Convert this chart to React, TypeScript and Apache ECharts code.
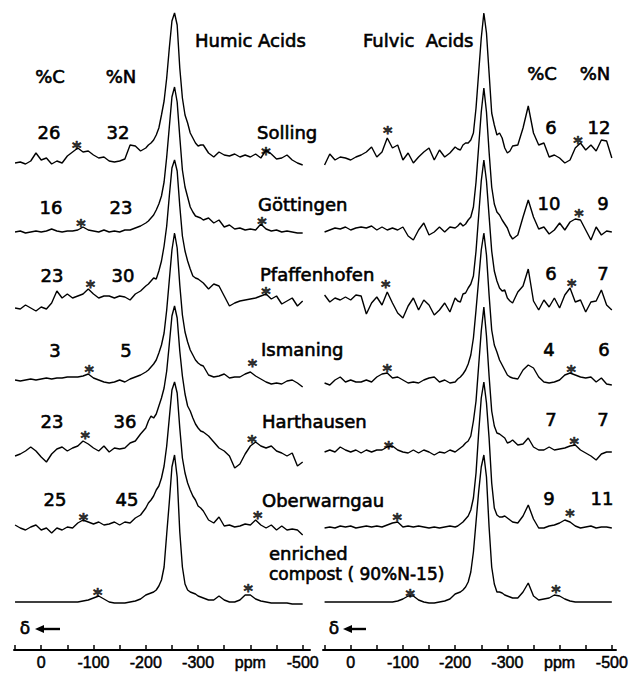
import React, { useEffect, useRef } from "react";
import * as echarts from "echarts";

// chemical shift grid (ppm) shared by every spectrum
const PPM = [
  50, 40, 30, 20, 10, 0, -10, -20, -30, -40, -50, -60, -70, -80, -90, -100, -110, -120, -130, -140, -150, -160, -170, -180, -190, -200,
  -205, -210, -215, -220, -225, -230, -235, -240, -245, -250, -255, -260, -265, -270, -275, -280, -285, -290, -295, -300, -305,
  -310, -320, -330, -340, -350, -360, -370, -380, -390, -400, -410, -420, -430, -440, -450, -460, -470, -480, -490, -500,
];

const samples = ["Solling", "Göttingen", "Pfaffenhofen", "Ismaning", "Harthausen", "Oberwarngau"];
const humicC = [26, 16, 23, 3, 23, 25];
const humicN = [32, 23, 30, 5, 36, 45];
const fulvicC = [6, 10, 6, 4, 7, 9];
const fulvicN = [12, 9, 7, 6, 7, 11];
const tickLabels = [0, -100, -200, -300, -400, -500];
const tickMarks = [50, 0, -50, -100, -150, -200, -250, -300, -350, -400, -450, -500];

// humic acid spectra (intensity above each trace's baseline)
const humicSolling = [
  0, 1, -1, 2, 10, 3, 5, -1, 2, 0, 7, 11, 15, 11, 12, 8, 5, 6, 2, 1, 2, 4, 18, 17, 12, 15,
  18, 20, 23, 28, 35, 48, 62, 85, 115, 142, 150, 138, 95, 65, 48, 40, 30, 25, 20, 17, 18,
  18, 10, 6, 11, 8, 7, 9, 6, 8, 6, 9, 5, 13, 9, 4, 5, 8, 3, 0, -2,
];
const humicGoettingen = [
  0, 1, -1, 0, 1, 0, 1, 3, 1, 0, 1, 1, 2, 5, 2, 1, 0, 2, 0, 1, 0, 2, 2, 4, 6, 9,
  11, 14, 17, 22, 28, 36, 50, 75, 105, 135, 145, 130, 95, 62, 45, 35, 25, 20, 16, 15, 14,
  12, 14, 9, 12, 5, 7, 3, 4, 2, 3, 2, 8, 3, 1, 2, 0, 1, 0, -1, -1,
];
const humicPfaffenhofen = [
  -2, -3, 1, -2, -5, -1, -3, 3, 15, 8, 12, 8, 10, 12, 17, 12, 8, 10, 10, 8, 10, 9, 6, 12, 15, 20,
  22, 25, 28, 27, 35, 45, 60, 80, 110, 138, 146, 135, 100, 70, 55, 45, 37, 30, 28, 27, 25,
  23, 17, 22, 20, 10, 0, 3, 5, 6, 7, 8, 10, 12, 7, 10, 2, 5, 8, 0, 5,
];
const humicIsmaning = [
  0, -1, 0, 1, 0, 1, 2, 1, 2, 2, 3, 3, 3, 4, 6, 2, 0, -2, -3, -2, 0, -2, 1, 3, 5, 8,
  10, 13, 16, 20, 27, 35, 47, 70, 100, 130, 147, 132, 95, 65, 48, 38, 30, 25, 20, 17, 15,
  14, 5, 3, 4, 6, 2, 3, 3, 6, 8, 4, 1, -2, -4, -3, -4, -1, 0, -3, -7,
];
const humicHarthausen = [
  0, 2, 5, 9, 5, -1, -6, 2, 7, 9, 5, 8, 10, 15, 12, 8, 5, 10, 4, 8, 7, 8, 13, 15, 22, 28,
  35, 40, 38, 42, 50, 58, 68, 85, 112, 140, 150, 138, 105, 80, 62, 50, 45, 38, 32, 28, 25,
  24, 20, 14, 8, 5, 0, -12, -8, 2, 10, 14, 10, 8, 10, 5, 3, 0, 3, -10, -6,
];
const humicOberwarngau = [
  3, 0, -2, 1, 3, -2, 0, -5, 0, -2, 1, 0, 5, 8, 6, 4, 6, 3, 4, 6, 3, 6, 5, 10, 13, 20,
  25, 28, 32, 38, 42, 50, 62, 82, 110, 138, 146, 135, 100, 70, 55, 45, 38, 32, 28, 22, 20,
  17, 8, 5, 11, 2, 3, 1, 2, 4, 3, 8, 3, 0, 3, -2, 2, -2, -1, -2, -7,
];
const humicCompost = [
  0, 0, 0, 0, 0, 0, 0, 0, 0, 0, 0, 0, 0, 1, 2, 4, 6, 3, 0, -1, -1, -1, 0, 1, 3, 7,
  8, 9, 10, 12, 16, 22, 35, 68, 100, 135, 147, 125, 70, 35, 18, 12, 10, 9, 8, 6, 5,
  4, 2, 2, 6, 2, 0, 0, 2, 7, 7, 3, 1, 0, -1, -1, -1, -1, -2, -2, -2,
];

// fulvic acid spectra
const fulvicSolling = [
  -2, 9, 3, 6, 5, 3, 6, 8, 11, 16, 6, 11, 25, 15, 18, 3, 10, 0, 6, 11, 15, 3, 13, 6, 10, 16,
  14, 13, 18, 20, 20, 23, 30, 55, 90, 125, 150, 130, 90, 50, 38, 28, 30, 25, 15, 10, 12,
  17, 18, 35, 57, 30, 18, 20, 6, 8, 5, 0, 3, 15, 20, 13, 18, 12, 23, 22, 5,
];
const fulvicGoettingen = [
  0, 2, 4, 3, 5, 2, 4, 5, 4, 6, 2, 5, 2, 4, 2, 5, -4, -8, 2, 9, -3, 0, 5, 0, 5, 4,
  6, 9, 6, 8, 12, 15, 25, 50, 85, 120, 144, 120, 80, 45, 28, 20, 17, 12, 8, 4, -3,
  -7, -3, 15, 32, 15, 3, 5, -2, 2, 9, 2, 10, 13, 12, 2, -8, 5, -3, 1, 0,
];
const fulvicPfaffenhofen = [
  11, 4, 8, 6, 9, 6, 11, 10, -8, 3, 9, 1, 14, 3, -7, -12, 0, 8, -4, 6, 1, -9, -4, 3, -6, 8,
  5, 4, 12, 13, 18, 22, 30, 55, 90, 125, 146, 125, 90, 55, 35, 25, 18, 15, 16, 8, 5,
  3, 14, 20, 37, 5, -4, 6, -1, 8, -2, 11, 18, 4, 6, -6, 4, 5, 16, 1, -4,
];
const fulvicIsmaning = [
  -3, -5, 0, 3, -2, 0, -2, -2, 0, -2, 3, 6, 7, 2, 3, 0, -3, -2, -3, 0, 2, 3, -2, 0, -3, -2,
  1, 3, 6, 10, 16, 25, 42, 70, 100, 130, 147, 125, 85, 50, 35, 28, 20, 15, 10, 5, 3,
  2, 1, 10, 15, 12, 3, -2, -3, -2, 0, 5, 7, 5, 3, 2, 3, -2, 2, -4, -5,
];
const fulvicHarthausen = [
  4, 6, 4, 9, 6, 4, 6, 3, 6, 4, 6, 6, 9, 10, 6, 4, 3, 6, 3, 6, 4, 1, 4, 3, 6, 4,
  6, 8, 10, 13, 15, 20, 35, 55, 90, 125, 149, 120, 80, 45, 30, 23, 22, 20, 18, 13, 14,
  16, 11, 12, 18, 9, 6, 6, 9, 6, 7, 8, 10, 11, 6, 3, 0, -4, 2, 4, 4,
];
const fulvicOberwarngau = [
  0, 1, 0, 2, 1, 2, 0, 1, 2, 1, 2, 1, 3, 5, 6, 1, 2, 1, 2, 1, 0, 1, 0, 1, 2, 1,
  2, 4, 6, 9, 12, 18, 30, 55, 95, 130, 146, 125, 90, 45, 20, 13, 11, 11, 12, 10, 8,
  6, 5, 12, 23, 9, 0, 0, 2, 3, 5, 8, 6, 2, 0, 1, 2, 0, 1, 1, 0,
];
const fulvicCompost = [
  0, 0, 0, 0, 0, 0, 0, 0, 0, 0, 0, 0, 0, 0, 1, 3, 6, 6, 2, 0, -1, -1, 0, 1, 3, 8,
  9, 10, 12, 15, 20, 30, 50, 80, 110, 135, 147, 125, 75, 35, 18, 10, 10, 9, 7, 6, 5,
  4, 4, 10, 19, 6, 2, 3, 4, 7, 6, 3, 1, 0, 0, 0, 0, 0, 0, 0, 0,
];

// spinning side bands: [ppm, trace index, height above baseline]
const humicSidebands = [
  [-68, 0, 20], [-430, 0, 14], [-76, 1, 11], [-422, 1, 13], [-94, 2, 24], [-430, 2, 17],
  [-92, 3, 13], [-404, 3, 19], [-84, 4, 23], [-403, 4, 19], [-81, 5, 13], [-414, 5, 15],
  [-108, 6, 12], [-396, 6, 16],
];
const fulvicSidebands = [
  [-71, 0, 35], [-435, 0, 25], [-437, 1, 21], [-67, 2, 24], [-423, 2, 25], [-70, 3, 14],
  [-422, 3, 13], [-73, 4, 13], [-428, 4, 17], [-89, 5, 13], [-420, 5, 17], [-114, 6, 11],
  [-393, 6, 15],
];

const humicSpectra = [humicSolling, humicGoettingen, humicPfaffenhofen, humicIsmaning, humicHarthausen, humicOberwarngau, humicCompost];
const fulvicSpectra = [fulvicSolling, fulvicGoettingen, fulvicPfaffenhofen, fulvicIsmaning, fulvicHarthausen, fulvicOberwarngau, fulvicCompost];

// layout: vertical stacking offset of each trace (value units = px)
const ROW_OFFSET = [439, 370, 296, 222, 146, 74, 0];

const FONT = '"DejaVu Sans", sans-serif';
const INK = "#000";

function txt(text: string, x: number, y: number, align: string = "center", size: number = 18) {
  return {
    type: "text",
    silent: true,
    style: {
      text, x, y, fill: INK, stroke: INK, lineWidth: 0.6,
      font: `${size}px ${FONT}`, align, verticalAlign: "middle",
    },
  };
}

function arrow(x0: number, x1: number, y: number) {
  return [
    { type: "line", silent: true, shape: { x1: x0 + 6, y1: y, x2: x1, y2: y }, style: { stroke: INK, lineWidth: 2.4 } },
    { type: "polygon", silent: true, shape: { points: [[x0, y], [x0 + 9, y - 4], [x0 + 9, y + 4]] }, style: { fill: INK } },
  ];
}

function makeXAxis(gridIndex: number, min: number, max: number) {
  return {
    gridIndex,
    type: "value",
    min,
    max,
    inverse: true,
    splitLine: { show: false },
    axisLine: { show: true, onZero: false, lineStyle: { color: INK, width: 2 } },
    axisTick: { show: true, inside: true, length: 5, customValues: tickMarks, lineStyle: { color: INK, width: 1.5 } },
    axisLabel: {
      show: true,
      customValues: tickLabels,
      formatter: (v: number) => (v === -400 ? "ppm" : String(v)),
      color: INK,
      fontSize: 16,
      fontFamily: '"Liberation Sans", Arial, sans-serif',
      textBorderColor: INK,
      textBorderWidth: 0.5,
      margin: 4,
      hideOverlap: false,
    },
  };
}

function makeYAxis(gridIndex: number) {
  return { gridIndex, type: "value", min: -48, max: 600, show: false, splitLine: { show: false } };
}

export default function App() {
  const ref = useRef<HTMLDivElement>(null);
  useEffect(() => {
    if (!ref.current) return;
    const chart = echarts.init(ref.current, null, { renderer: "svg" });

    const series: any[] = [];
    [humicSpectra, fulvicSpectra].forEach((set, panel) => {
      set.forEach((vals, row) => {
        series.push({
          type: "line",
          xAxisIndex: panel,
          yAxisIndex: panel,
          showSymbol: false,
          silent: true,
          smooth: false,
          data: PPM.map((p, i) => [p, vals[i] + ROW_OFFSET[row]]),
          lineStyle: { color: INK, width: 1.4 },
          z: 2,
        });
      });
    });
    [humicSidebands, fulvicSidebands].forEach((bands, panel) => {
      series.push({
        type: "scatter",
        xAxisIndex: panel,
        yAxisIndex: panel,
        silent: true,
        symbolSize: 1,
        itemStyle: { color: "rgba(0,0,0,0)" },
        data: bands.map(([p, row, h]) => [p, ROW_OFFSET[row] + h]),
        label: {
          show: true,
          formatter: "*",
          position: "inside",
          color: INK,
          fontSize: 18,
          fontWeight: "bold",
          fontFamily: FONT,
          textBorderColor: INK,
          textBorderWidth: 0.6,
          offset: [0, 4],
        },
        z: 3,
      });
    });

    const humicRowY = [132, 207, 275, 350, 421, 499];
    const humicCX = [49, 51, 52, 55, 52, 55];
    const humicNX = [118, 121, 123, 126, 125, 127];
    const nameY = [132, 204, 274, 349, 421, 500];
    const nameX = [257, 258, 260, 261, 262, 262];
    const fulvicRowY = [127, 203, 273, 349, 419, 498];
    const fulvicCX = [551, 549, 551, 549, 551, 549];
    const fulvicNX = [599, 603, 603, 604, 603, 602];

    const graphic: any[] = [
      txt("Humic Acids", 195, 40, "left"),
      txt("Fulvic  Acids", 363, 40, "left"),
      txt("%C", 50, 76),
      txt("%N", 121, 76),
      txt("%C", 542, 73),
      txt("%N", 595, 73),
      txt("enriched", 269, 553, "left"),
      txt("compost ( 90%N-15)", 269, 574, "left", 17),
      txt("δ", 25, 628, "center", 17),
      txt("δ", 334, 628, "center", 17),
      ...arrow(35, 60, 629),
      ...arrow(343, 366, 629),
    ];
    samples.forEach((s, i) => {
      graphic.push(txt(String(humicC[i]), humicCX[i], humicRowY[i]));
      graphic.push(txt(String(humicN[i]), humicNX[i], humicRowY[i]));
      graphic.push(txt(s, nameX[i], nameY[i], "left"));
      graphic.push(txt(String(fulvicC[i]), fulvicCX[i], fulvicRowY[i]));
      graphic.push(txt(String(fulvicN[i]), fulvicNX[i], fulvicRowY[i]));
    });

    chart.setOption({
      animation: false,
      backgroundColor: "#ffffff",
      grid: [
        { left: 14, width: 296, top: 2, height: 648, containLabel: false, outerBoundsMode: "none" },
        { left: 323, width: 293, top: 2, height: 648, containLabel: false, outerBoundsMode: "none" },
      ],
      xAxis: [makeXAxis(0, -514, 52), makeXAxis(1, -508, 53)],
      yAxis: [makeYAxis(0), makeYAxis(1)],
      series,
      graphic,
    });
    return () => chart.dispose();
  }, []);
  return <div ref={ref} style={{ position: "fixed", left: 0, top: 0, width: 630, height: 673 }} />;
}
